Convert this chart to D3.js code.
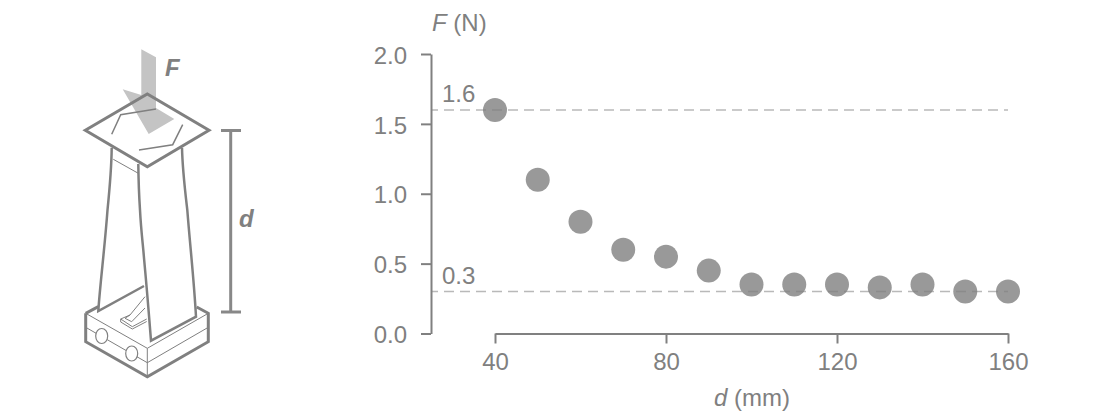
<!DOCTYPE html>
<html><head><meta charset="utf-8">
<script src="https://cdnjs.cloudflare.com/ajax/libs/d3/7.8.5/d3.min.js"></script>
<style>html,body{margin:0;background:#fff}svg{display:block}text{font-family:"Liberation Sans",Arial,sans-serif;fill:#808080}</style>
</head><body><svg id="c" width="1094" height="414"></svg>
<script>
const distances=[40,50,60,70,80,90,100,110,120,130,140,150,160];
const forces=[1.6,1.1,0.8,0.6,0.55,0.45,0.35,0.35,0.35,0.33,0.35,0.3,0.3];
const refLines=[1.6,0.3];
const yTicks=[0,0.5,1,1.5,2];
const xTicks=[40,80,120,160];
const grey="#808080";
const svg=d3.select("#c");
const x=d3.scaleLinear().domain([40,160]).range([495,1008]);
const y=d3.scaleLinear().domain([0,2]).range([333.5,54]);

const gy=svg.append("g").attr("transform","translate(431,0)").call(d3.axisLeft(y).tickValues(yTicks).tickSize(10).tickSizeOuter(0).tickPadding(14).tickFormat(d3.format(".1f")));
gy.selectAll("text").attr("dy","0.38em");
const gx=svg.append("g").attr("transform","translate(0,333.5)").call(d3.axisBottom(x).tickValues(xTicks).tickSize(10).tickSizeOuter(0).tickPadding(9));
[gy,gx].forEach(g=>{g.selectAll("path,line").attr("stroke",grey).attr("stroke-width",2);g.selectAll("text").attr("font-size",24).attr("font-family",null).attr("fill",grey);g.select("path").attr("fill","none");});

svg.append("g").selectAll("circle").data(distances).join("circle")
 .attr("cx",d=>x(d)).attr("cy",(d,i)=>y(forces[i])).attr("r",12).attr("fill","#999");
svg.append("g").selectAll("line").data(refLines).join("line")
 .attr("x1",432).attr("x2",x(160)).attr("y1",d=>y(d)).attr("y2",d=>y(d))
 .attr("stroke",grey).attr("stroke-opacity",.55).attr("stroke-width",1.5).attr("stroke-dasharray","10 6").attr("stroke-dashoffset",4);
svg.append("g").selectAll("text").data(refLines).join("text")
 .attr("x",442).attr("y",d=>y(d)-8).attr("font-size",24).text(d=>d.toFixed(1));

const t1=svg.append("text").attr("x",432).attr("y",31).attr("font-size",24);
t1.append("tspan").attr("font-style","italic").text("F");t1.append("tspan").text(" (N)");
const t2=svg.append("text").attr("x",752).attr("y",406).attr("text-anchor","middle").attr("font-size",24);
t2.append("tspan").attr("font-style","italic").text("d");t2.append("tspan").text(" (mm)");

const fillShapes=["M141.3 49.3L156 57.3L156 108L174.3 119L148.7 134L122.7 89.3L141.3 95Z"];
const thick=["M85.3 130.3L147.3 94L209 130.3L147.3 166.7Z",
 "M85.7 313.3L85.7 341.7L147.3 376.7L208.3 341.7L208.3 313.3L196.7 307",
 "M85.7 313.3L98.3 306.7"];
const legs=["M111.7 147.7C111.5 170 109 195 107.5 210C105 245 100 285 98.3 311L144 286",
 "M138.3 164C138.5 180 139 195 140 210C141 230 143 245 144 258C147 290 149 315 151 340.7L196 316.7C194 280 190 245 187.3 210C185 190 182.5 170 182 147.7"];
const thin=["M111.7 134.3L120.7 114.7L156 109","M139 150L172.7 144.7L182.7 124.7"];
const hair=["M113.3 159.3L138.3 173.3","M85.7 313.3L147.3 348.3L208.3 313.3","M85.7 327.3L147.3 362.7L208.3 327.3","M147.3 348.3L147.3 376.7",
 "M120.7 319L130 315L145 296.7","M120.7 319L132.3 326.7L146.7 319","M120.7 319L120.7 322L132.3 329L146.7 321.5","M125 318.3L131.7 321.7L145 308","M130 315L125 318.3"];
const ports=[[101.7,336],[131.7,353.5]];
const g=svg.append("g").attr("fill","none").attr("stroke-linejoin","miter");
g.selectAll(".f").data(fillShapes).join("path").attr("d",d=>d).attr("fill","#c4c4c4");
g.selectAll(".h").data(hair).join("path").attr("d",d=>d).attr("stroke",grey).attr("stroke-width",1);
g.selectAll(".p").data(ports).join("ellipse").attr("cx",d=>d[0]).attr("cy",d=>d[1]).attr("rx",6).attr("ry",7.5).attr("fill","#fff").attr("stroke",grey).attr("stroke-width",1.2);
g.selectAll(".l").data(legs).join("path").attr("d",d=>d).attr("stroke",grey).attr("stroke-width",2.5);
g.selectAll(".t").data(thick).join("path").attr("d",d=>d).attr("stroke",grey).attr("stroke-width",3);
g.selectAll(".n").data(thin).join("path").attr("d",d=>d).attr("stroke",grey).attr("stroke-width",1.5);
const bracket=["M230.7 130.5L230.7 312","M221 130.5L241 130.5","M221 312L241 312"];
g.selectAll(".b").data(bracket).join("path").attr("d",d=>d).attr("stroke","#888").attr("stroke-width",3);
svg.append("text").attr("x",165).attr("y",76).attr("font-size",24).attr("font-weight","bold").attr("font-style","italic").text("F");
svg.append("text").attr("x",239).attr("y",227).attr("font-size",24).attr("font-weight","bold").attr("font-style","italic").text("d");
</script></body></html>
